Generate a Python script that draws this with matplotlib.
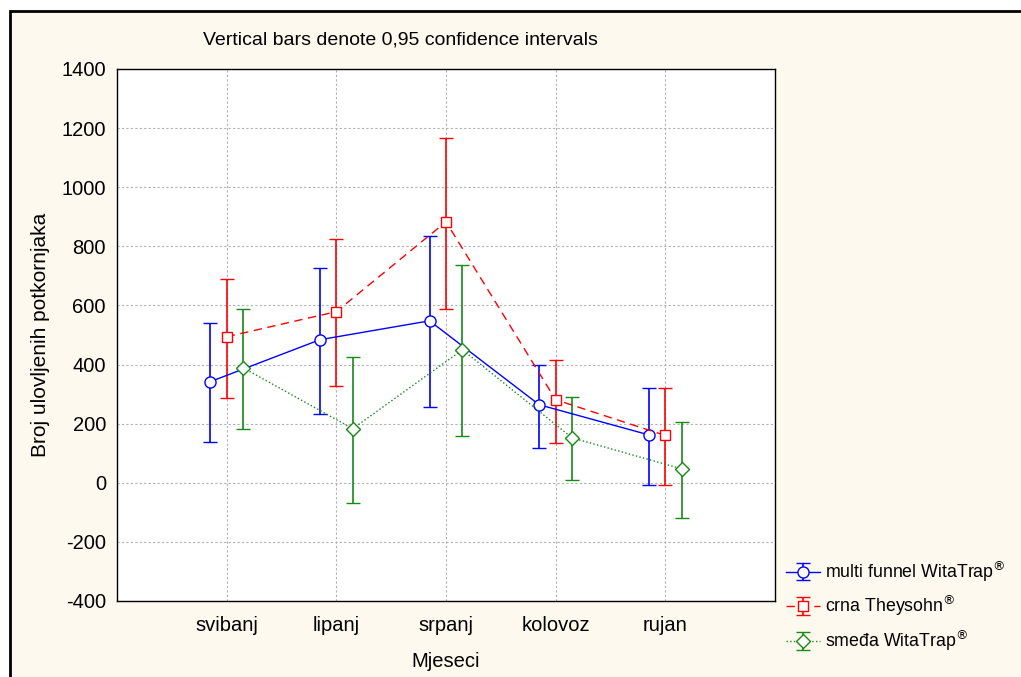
import matplotlib.pyplot as plt
from matplotlib.patches import Rectangle

plt.rcParams['font.family'] = ['Liberation Sans', 'DejaVu Sans']
plt.rcParams['axes.unicode_minus'] = False

months = ["svibanj", "lipanj", "srpanj", "kolovoz", "rujan"]

# means and 0.95 confidence limits
multi_mean = [342, 484, 548, 264, 162]
multi_low = [139, 233, 257, 118, -7]
multi_high = [541, 728, 836, 399, 321]

crna_mean = [494, 579, 883, 281, 160]
crna_low = [288, 328, 589, 135, -7]
crna_high = [690, 826, 1167, 416, 321]

smeda_mean = [389, 183, 450, 152, 47]
smeda_low = [183, -68, 159, 10, -118]
smeda_high = [589, 426, 738, 291, 206]

series = [
    ("multi funnel WitaTrap$^{\\circledR}$", multi_mean, multi_low, multi_high, '#0000ff', 'o', '-', -0.15),
    ("crna Theysohn$^{\\circledR}$", crna_mean, crna_low, crna_high, '#ff0000', 's', (0, (6, 4)), 0.0),
    ("smeđa WitaTrap$^{\\circledR}$", smeda_mean, smeda_low, smeda_high, '#158a15', 'D', ':', 0.15),
]

fig = plt.figure(figsize=(10.21, 6.77), dpi=100, facecolor='white')
# cream panel with black frame
fig.patches.append(Rectangle((10 / 1021, -0.1), 1.2, 1 - 11 / 677 + 0.1, transform=fig.transFigure,
                             facecolor='#fef9ee', edgecolor='black', linewidth=2, zorder=-10))

ax = fig.add_axes([117 / 1021, 1 - 601 / 677, 658 / 1021, 532 / 677])
ax.set_facecolor('white')

handles = []
for label, m, lo, hi, col, mk, ls, off in series:
    xs = [i + 1 + off for i in range(len(m))]
    err = [[a - b for a, b in zip(m, lo)], [c - a for a, c in zip(m, hi)]]
    h = ax.errorbar(xs, m, yerr=err, color=col, marker=mk, linestyle=ls, linewidth=1,
                    markersize=8 if mk == 'o' else 7, markerfacecolor='white', markeredgecolor=col,
                    markeredgewidth=1, capsize=5, elinewidth=1.2, capthick=1.2, label=label)
    handles.append(h)

ax.set_xlim(0, 6)
ax.set_ylim(-400, 1400)
ax.set_xticks(range(1, 6))
ax.set_xticklabels(months)
ax.set_yticks(range(-400, 1401, 200))
ax.tick_params(axis='y', length=0, labelsize=14.5, pad=8)
ax.tick_params(axis='x', length=0, labelsize=14.5, pad=11)
ax.grid(True, color='#b0b0b0', linestyle=(0, (2, 2)), linewidth=0.8)
ax.set_axisbelow(True)
for s in ax.spines.values():
    s.set_linewidth(1)

ax.set_xlabel("Mjeseci", fontsize=14.5, labelpad=12)
ax.set_ylabel("Broj ulovljenih potkornjaka", fontsize=15, labelpad=8)
fig.text(400 / 1021, 1 - 40 / 677, "Vertical bars denote 0,95 confidence intervals",
         fontsize=14, ha='center', va='center')

fig.legend(handles=handles, loc='lower left', bbox_to_anchor=(779 / 1021, 1 - 660 / 677),
           frameon=False, fontsize=12.8, handlelength=1.9, handletextpad=0.3, labelspacing=0.55,
           borderaxespad=0)

fig.savefig("out.png", dpi=100)
